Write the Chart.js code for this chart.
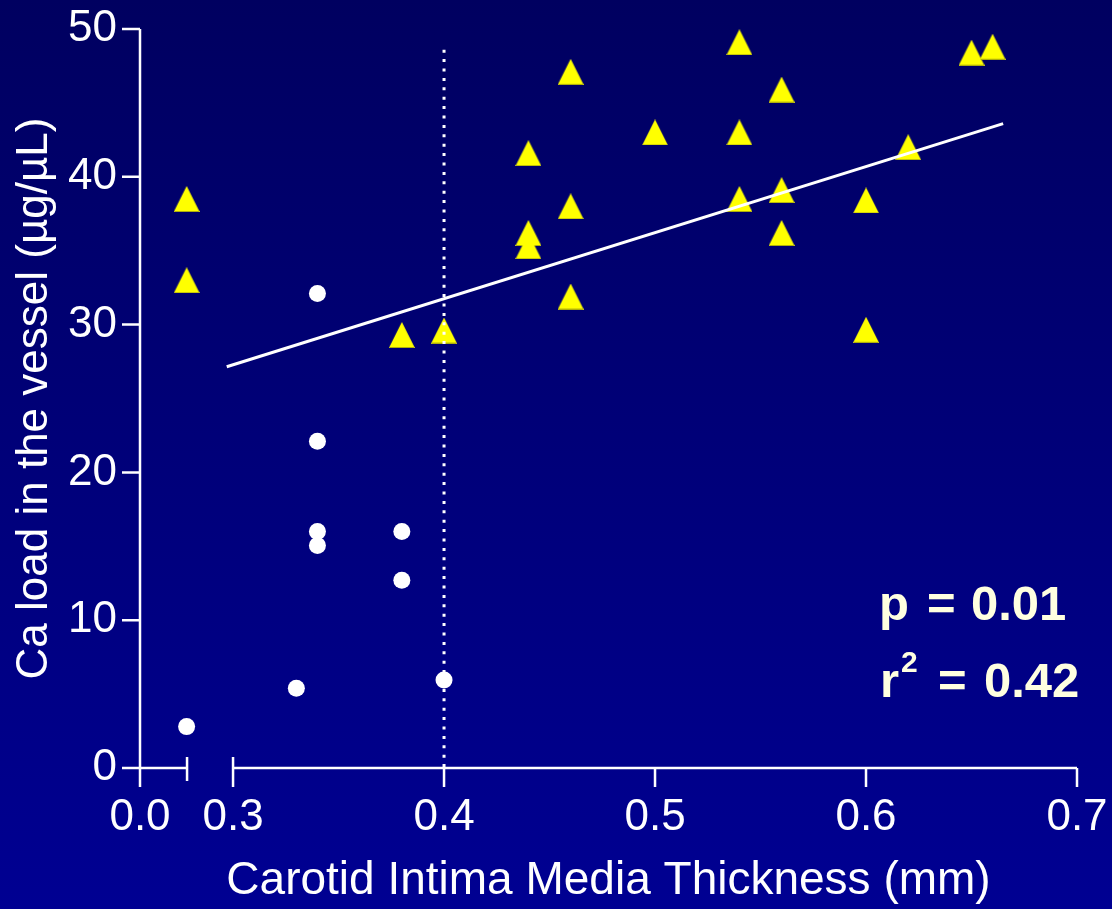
<!DOCTYPE html>
<html>
<head>
<meta charset="utf-8">
<script src="https://cdn.jsdelivr.net/npm/chart.js@4.4.1/dist/chart.umd.min.js"></script>
<style>
  html, body { margin: 0; padding: 0; background: #000078; }
  #wrap { width: 1112px; height: 909px; position: relative; }
</style>
</head>
<body>
<div id="wrap"><canvas id="c"></canvas></div>
<script>
// ---------- data ----------
// White circles
const circleX = [0.278, 0.33, 0.34, 0.34, 0.34, 0.34, 0.38, 0.38, 0.40];
const circleY = [2.8, 5.4, 32.1, 22.1, 16.0, 15.05, 16.0, 12.7, 5.95];
// Yellow triangles
const triX = [0.278, 0.278, 0.38, 0.40, 0.44, 0.44, 0.44, 0.46, 0.46, 0.46, 0.50,
              0.54, 0.54, 0.54, 0.56, 0.56, 0.56, 0.60, 0.60, 0.62, 0.65, 0.66];
const triY = [38.5, 33.0, 29.3, 29.6, 41.6, 36.2, 35.3, 47.1, 38.0, 31.9, 43.0,
              49.1, 43.0, 38.5, 45.9, 39.1, 36.2, 38.4, 29.65, 42.0, 48.4, 48.8];
// Regression line end points
const regX = [0.297, 0.665];
const regY = [27.15, 43.6];
// Dotted cut-off line
const cutX = [0.40, 0.40];
const cutY = [48.6, 0];
// Axis ticks (broken x axis: first segment labelled 0.0)
const xTickValues = [0.2559, 0.3, 0.4, 0.5, 0.6, 0.7];
const xTickLabels = ['0.0', '0.3', '0.4', '0.5', '0.6', '0.7'];
const xBreak = [0.2782, 0.3];
const yTickValues = [0, 10, 20, 30, 40, 50];
const xTitle = 'Carotid Intima Media Thickness (mm)';
const yTitle = 'Ca load in the vessel (\u00B5g/\u00B5L)';
const statP = ['p', '=', '0.01'];
const statR = ['r', '2', '=', '0.42'];

// ---------- helpers ----------
const FONT = '"Liberation Sans", Arial, Helvetica, sans-serif';
function makeTriangle(w, h, color) {
  const c = document.createElement('canvas');
  c.width = w; c.height = h;
  const g = c.getContext('2d');
  g.fillStyle = color;
  g.beginPath();
  g.moveTo(w / 2, 0);
  g.lineTo(w, h);
  g.lineTo(0, h);
  g.closePath();
  g.fill();
  g.fillStyle = 'rgba(120,120,20,0.6)';
  g.fillRect(1, h - 1, w - 2, 1);
  return c;
}
const triImg = makeTriangle(26, 26, '#FFFF00');
const pts = (xs, ys) => xs.map((x, i) => ({ x: x, y: ys[i] }));

const bgPlugin = {
  id: 'bg',
  beforeDraw(chart) {
    const { ctx, width, height } = chart;
    const g = ctx.createLinearGradient(0, 0, 0, height);
    g.addColorStop(0, '#000060');
    g.addColorStop(1, '#000092');
    ctx.save();
    ctx.fillStyle = g;
    ctx.fillRect(0, 0, width, height);
    ctx.restore();
  }
};

const axisPlugin = {
  id: 'axes',
  beforeDatasetsDraw(chart) {
    const { ctx, chartArea: a, scales } = chart;
    const x = scales.x, y = scales.y;
    ctx.save();
    ctx.strokeStyle = '#FFFFFF';
    ctx.lineWidth = 2.5;
    ctx.beginPath();
    // y axis
    ctx.moveTo(a.left, a.top);
    ctx.lineTo(a.left, a.bottom);
    yTickValues.forEach(v => {
      const py = y.getPixelForValue(v);
      ctx.moveTo(a.left - 18, py);
      ctx.lineTo(a.left, py);
    });
    // x axis, two segments
    const last = xTickValues[xTickValues.length - 1];
    ctx.moveTo(x.getPixelForValue(xTickValues[0]), a.bottom);
    ctx.lineTo(x.getPixelForValue(xBreak[0]), a.bottom);
    ctx.moveTo(x.getPixelForValue(xBreak[1]), a.bottom);
    ctx.lineTo(x.getPixelForValue(last), a.bottom);
    xTickValues.forEach(v => {
      const px = x.getPixelForValue(v);
      ctx.moveTo(px, a.bottom);
      ctx.lineTo(px, a.bottom + 19);
    });
    // break caps
    const b0 = x.getPixelForValue(xBreak[0]);
    const b1 = x.getPixelForValue(xBreak[1]);
    ctx.moveTo(b0, a.bottom - 11); ctx.lineTo(b0, a.bottom + 13);
    ctx.moveTo(b1, a.bottom - 11); ctx.lineTo(b1, a.bottom + 19);
    ctx.stroke();
    ctx.restore();
  }
};

const statsPlugin = {
  id: 'stats',
  afterDraw(chart) {
    const { ctx } = chart;
    ctx.save();
    ctx.fillStyle = '#FFFFE0';
    ctx.textAlign = 'left';
    ctx.textBaseline = 'alphabetic';
    ctx.font = 'bold 49px ' + FONT;
    ctx.fillText(statP[0], 879, 620);
    ctx.fillText(statP[1], 927, 620);
    ctx.fillText(statP[2], 971, 620);
    ctx.fillText(statR[0], 880, 697);
    ctx.fillText(statR[2], 938, 697);
    ctx.fillText(statR[3], 984, 697);
    ctx.font = 'bold 30px ' + FONT;
    ctx.fillText(statR[1], 901, 672);
    ctx.restore();
  }
};

new Chart(document.getElementById('c'), {
  type: 'scatter',
  data: {
    datasets: [
      { label: 'circles', data: pts(circleX, circleY), pointStyle: 'circle', pointRadius: 8.5,
        backgroundColor: '#FFFFFF', borderWidth: 0, order: 0, clip: false },
      { label: 'regression', data: pts(regX, regY), showLine: true, borderColor: '#FFFFFF',
        borderWidth: 3, pointRadius: 0, fill: false, order: 1, clip: false },
      { label: 'cutoff', data: pts(cutX, cutY), showLine: true, borderColor: '#FFFFFF',
        borderWidth: 3, borderDash: [3, 6.4], pointRadius: 0, fill: false, order: 2, clip: false },
      { label: 'triangles', data: pts(triX, triY), pointStyle: triImg, pointRadius: 13,
        backgroundColor: '#FFFF00', borderWidth: 0, order: 3, clip: false }
    ]
  },
  options: {
    responsive: true,
    maintainAspectRatio: false,
    animation: false,
    events: [],
    layout: { padding: { top: 29, right: 35, left: 0, bottom: 0 } },
    plugins: { legend: { display: false }, tooltip: { enabled: false } },
    scales: {
      x: {
        type: 'linear',
        min: xTickValues[0],
        max: xTickValues[xTickValues.length - 1],
        afterBuildTicks: s => { s.ticks = xTickValues.map(v => ({ value: v })); },
        afterFit: s => { s.height = 141; s.paddingLeft = 0; s.paddingRight = 0; },
        grid: { display: false, drawTicks: false },
        border: { display: false },
        ticks: {
          color: '#FFFFFF', autoSkip: false, maxRotation: 0, padding: 28,
          font: { family: FONT, size: 44, lineHeight: 1 },
          callback: (v, i) => xTickLabels[i]
        },
        title: {
          display: true, text: xTitle, color: '#FFFFFF',
          font: { family: FONT, size: 46, lineHeight: 1 },
          padding: { top: 0, bottom: 5 }
        }
      },
      y: {
        type: 'linear',
        min: 0, max: 50,
        afterBuildTicks: s => { s.ticks = yTickValues.map(v => ({ value: v })); },
        afterFit: s => { s.width = 140; s.paddingTop = 0; s.paddingBottom = 0; },
        grid: { display: false, drawTicks: false },
        border: { display: false },
        ticks: {
          color: '#FFFFFF', padding: 23,
          font: { family: FONT, size: 44, lineHeight: 1 }
        },
        title: {
          display: true, text: yTitle, color: '#FFFFFF',
          font: { family: FONT, size: 44, lineHeight: 1 },
          padding: { top: 13, bottom: 0 }
        }
      }
    }
  },
  plugins: [bgPlugin, axisPlugin, statsPlugin]
});
</script>
</body>
</html>
